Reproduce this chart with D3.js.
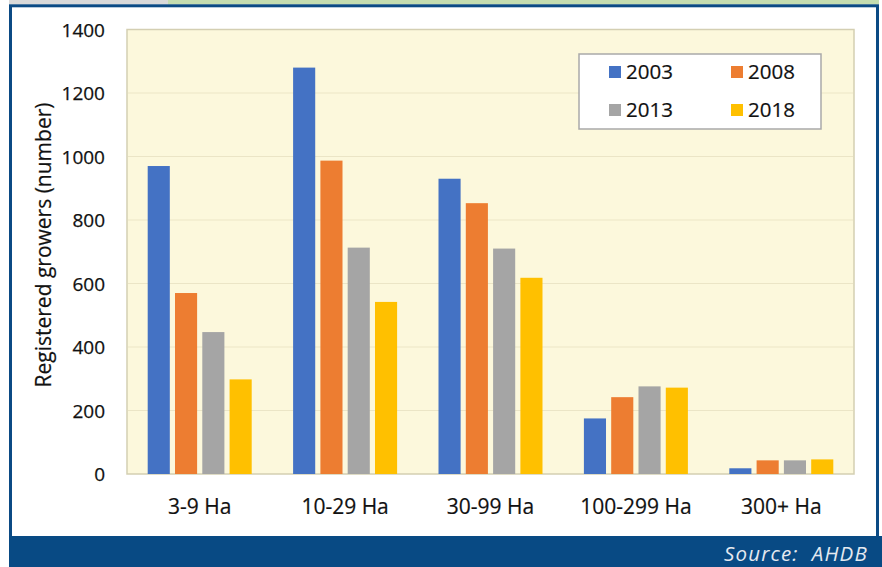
<!DOCTYPE html>
<html>
<head>
<meta charset="utf-8">
<script src="https://cdn.jsdelivr.net/npm/d3@7"></script>
<style>
  html, body { margin: 0; padding: 0; background: #ffffff; }
  svg { display: block; }
</style>
</head>
<body>
<svg id="chart" width="882" height="567"></svg>
<script>
// Farm size bands and registered grower counts by survey year
const categories = ["3-9 Ha", "10-29 Ha", "30-99 Ha", "100-299 Ha", "300+ Ha"];
const years = ["2003", "2008", "2013", "2018"];
const values2003 = [970, 1280, 930, 175, 18];
const values2008 = [570, 987, 853, 242, 43];
const values2013 = [447, 713, 710, 276, 43];
const values2018 = [298, 542, 618, 272, 46];
const seriesValues = [values2003, values2008, values2013, values2018];
const yTicks = [0, 200, 400, 600, 800, 1000, 1200, 1400];
const colours = ["#4472c4", "#ed7d31", "#a5a5a5", "#ffc000"];

const svg = d3.select("#chart");
const font = "'Open Sans', 'Noto Sans', sans-serif";
const ink = "#111111";

// Header strip and blue frame
svg.append("rect").attr("x", 9).attr("y", 0).attr("width", 159).attr("height", 4.5).attr("fill", "#d9d9d9");
svg.append("rect").attr("x", 168).attr("y", 0).attr("width", 711).attr("height", 4.5).attr("fill", "#c5ddb0");
svg.append("rect").attr("x", 10.5).attr("y", 5.8).attr("width", 867).attr("height", 540)
  .attr("fill", "#ffffff").attr("stroke", "#0b4a84").attr("stroke-width", 3);
svg.append("rect").attr("x", 9).attr("y", 536).attr("width", 873).attr("height", 31).attr("fill", "#084a84");
svg.append("text").attr("x", 868).attr("y", 561).attr("text-anchor", "end")
  .attr("font-family", font).attr("font-style", "italic").attr("font-size", 20.5)
  .attr("letter-spacing", 1.2)
  .attr("fill", "#e4e9f0").text("Source:\u00a0\u00a0AHDB");

// Plot area
const plot = { left: 127, right: 854, top: 29.5, bottom: 474 };

const x0 = d3.scaleBand().domain(categories).range([plot.left, plot.right]).padding(0);
const x1 = d3.scaleBand().domain(years).range([0, 104]).paddingInner(0.19).paddingOuter(0);
const y = d3.scaleLinear().domain([0, 1400]).range([plot.bottom, plot.top]);

svg.append("rect").attr("x", plot.left).attr("y", plot.top)
  .attr("width", plot.right - plot.left).attr("height", plot.bottom - plot.top)
  .attr("fill", "#fcf8dc").attr("stroke", "#d4cfb2").attr("stroke-width", 1.5);

// Horizontal gridlines
svg.append("g").selectAll("line").data(yTicks.filter(t => t > 0 && t < 1400)).join("line")
  .attr("x1", plot.left + 1).attr("x2", plot.right - 1)
  .attr("y1", d => y(d)).attr("y2", d => y(d))
  .attr("stroke", "#ebe5c6").attr("stroke-width", 1.2);

// Y axis
const yAxis = svg.append("g").attr("transform", `translate(${plot.left - 22},0)`)
  .call(d3.axisLeft(y).tickValues(yTicks).tickFormat(d3.format("d")).tickSize(0).tickPadding(0));
yAxis.select(".domain").remove();
yAxis.selectAll("text").attr("font-family", font).attr("font-size", 19)
  .attr("fill", ink).attr("stroke", ink).attr("stroke-width", 0.25).attr("dy", "0.36em");

svg.append("text")
  .attr("transform", `translate(44,245) rotate(-90)`)
  .attr("text-anchor", "middle").attr("dy", "0.35em").attr("font-family", font).attr("font-size", 21)
  .attr("fill", ink).attr("stroke", ink).attr("stroke-width", 0.2).text("Registered growers (number)");

// X axis labels
const xAxis = svg.append("g").attr("transform", `translate(0,${plot.bottom})`)
  .call(d3.axisBottom(x0).tickSize(0).tickPadding(0));
xAxis.select(".domain").remove();
xAxis.selectAll("text").attr("font-family", font).attr("font-size", 21).attr("fill", ink)
  .attr("stroke", ink).attr("stroke-width", 0.2)
  .attr("y", 33).attr("dy", "0.35em");

// Bars
const groups = svg.append("g").selectAll("g").data(categories).join("g")
  .attr("transform", d => `translate(${x0(d) + (x0.bandwidth() - 104) / 2},0)`);
groups.selectAll("rect")
  .data((c, i) => years.map((yr, s) => ({ yr, s, v: seriesValues[s][i] })))
  .join("rect")
  .attr("x", d => x1(d.yr))
  .attr("width", x1.bandwidth())
  .attr("y", d => y(d.v))
  .attr("height", d => y(0) - y(d.v))
  .attr("fill", d => colours[d.s]);

// Legend
const legend = svg.append("g");
legend.append("rect").attr("x", 579).attr("y", 54).attr("width", 242).attr("height", 75)
  .attr("fill", "#ffffff").attr("stroke", "#a9a9a9").attr("stroke-width", 1.5);
const legendPos = [[609, 72], [731, 72], [609, 110], [731, 110]];
years.forEach((yr, i) => {
  const [lx, ly] = legendPos[i];
  legend.append("rect").attr("x", lx).attr("y", ly - 6).attr("width", 12).attr("height", 12)
    .attr("fill", colours[i]);
  legend.append("text").attr("x", lx + 17).attr("y", ly).attr("dy", "0.36em")
    .attr("font-family", font).attr("font-size", 20.5).attr("fill", ink)
    .attr("stroke", ink).attr("stroke-width", 0.2).text(yr);
});
</script>
</body>
</html>
